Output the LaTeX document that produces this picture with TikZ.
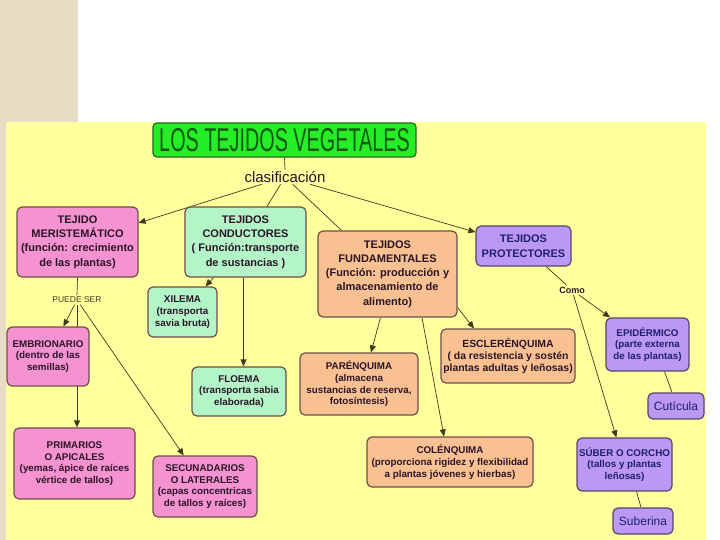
\documentclass[tikz,border=0pt]{standalone}
\usepackage{fontspec}
\setmainfont{Liberation Sans}
\newfontfamily\titlefont[FakeStretch=0.6]{Liberation Sans}
\usetikzlibrary{arrows.meta}
\pgfdeclarelayer{bg}
\pgfdeclarelayer{edges}
\pgfsetlayers{bg,edges,main}
\definecolor{yel}{HTML}{FFFF9E}
\definecolor{beige}{HTML}{E9DCC4}
\definecolor{pinkf}{HTML}{F592D0}
\definecolor{greenf}{HTML}{B4F5C8}
\definecolor{orangef}{HTML}{F9C192}
\definecolor{purplef}{HTML}{BB98F6}
\definecolor{titlef}{HTML}{26EE26}
\definecolor{titleline}{HTML}{1E6A1E}
\definecolor{titletxt}{HTML}{0E5A0E}
\definecolor{boxline}{HTML}{6E4E48}
\definecolor{purpline}{HTML}{55466A}
\definecolor{txt}{HTML}{2A1428}
\definecolor{navy}{HTML}{20206A}
\definecolor{lin}{HTML}{3C3C1C}
\tikzset{
  box/.style={draw=boxline, line width=1.2pt, rounded corners=5pt, inner sep=0pt,
    align=center, text=txt, font=\bfseries\fontsize{9.8}{11.7}\selectfont},
  big/.style={font=\bfseries\fontsize{11}{14.3}\selectfont},
  pinkb/.style={box, fill=pinkf},
  greenb/.style={box, fill=greenf},
  orangeb/.style={box, fill=orangef},
  purpleb/.style={box, fill=purplef, draw=purpline, text=navy},
  plainb/.style={purpleb, font=\fontsize{12}{14}\selectfont},
  lbl/.style={inner sep=1.5pt, text=txt},
  conn/.style={draw=lin, line width=0.7pt},
  arr/.style={conn, -{Triangle[length=7pt,width=6pt]}},
}
\begin{document}
\begin{tikzpicture}[x=1pt,y=-1pt]
\useasboundingbox (0,0) rectangle (720,540);
\begin{pgfonlayer}{bg}
  \fill[white] (0,0) rectangle (720,540);
  \fill[beige] (0,0) rectangle (78,122);
  \fill[beige] (0,122) rectangle (6,540);
  \fill[yel] (6,122) rectangle (706,540);
\end{pgfonlayer}

% title
\node[draw=titleline, fill=titlef, line width=1.2pt, rounded corners=4pt, inner sep=0pt,
  minimum width=263pt, minimum height=34pt, text=titletxt,
  font=\titlefont\fontsize{33}{33}\selectfont] (title) at (284.5,140) {LOS TEJIDOS VEGETALES};
\node[lbl, font=\fontsize{15}{16}\selectfont] (clas) at (285,177) {clasificación};

% meristematic
\node[pinkb, big, minimum width=121pt, minimum height=70pt] (mer) at (77.5,242)
  {TEJIDO\\MERISTEMÁTICO\\(función: crecimiento\\de las plantas)};
\node[lbl, text=lin, font=\fontsize{8.5}{9}\selectfont] (puede) at (77,300) {PUEDE SER};
\node[pinkb, minimum width=82pt, minimum height=59pt] (embr) at (48,356.5)
  {EMBRIONARIO\\(dentro de las\\semillas)};
\node[pinkb, minimum width=121pt, minimum height=71pt] (prim) at (74.5,463.5)
  {PRIMARIOS\\O APICALES\\(yemas, ápice de raíces\\vértice de tallos)};
\node[pinkb, minimum width=104pt, minimum height=61pt] (sec) at (205,486.5)
  {SECUNADARIOS\\O LATERALES\\(capas concentricas\\de tallos y raíces)};

% conductores
\node[greenb, big, minimum width=121pt, minimum height=70pt] (cond) at (245.5,242)
  {TEJIDOS\\CONDUCTORES\\( Función:transporte\\de sustancias )};
\node[greenb, minimum width=69pt, minimum height=50pt] (xil) at (182.5,312)
  {XILEMA\\(transporta\\savia bruta)};
\node[greenb, minimum width=94pt, minimum height=49pt] (flo) at (239,391.5)
  {FLOEMA\\(transporta sabia\\elaborada)};

% fundamentales
\node[orangeb, big, minimum width=139pt, minimum height=86pt] (fund) at (387.5,274)
  {TEJIDOS\\FUNDAMENTALES\\(Función: producción y\\almacenamiento de\\alimento)};
\node[orangeb, minimum width=118pt, minimum height=62pt] (par) at (359,384)
  {PARÉNQUIMA\\(almacena\\sustancias de reserva,\\fotosíntesis)};
\node[orangeb, font=\bfseries\fontsize{10.4}{11.7}\selectfont, minimum width=134pt, minimum height=54pt] (escl) at (508,356)
  {ESCLERÉNQUIMA\\( da resistencia y sostén\\plantas adultas y leñosas)};
\node[orangeb, minimum width=166pt, minimum height=50pt] (col) at (450,462)
  {COLÉNQUIMA\\(proporciona rigidez y flexibilidad\\a plantas jóvenes y hierbas)};

% protectores
\node[purpleb, big, font=\bfseries\fontsize{11}{15}\selectfont, minimum width=95pt, minimum height=40pt] (prot) at (523.5,246)
  {TEJIDOS\\PROTECTORES};
\node[lbl, font=\bfseries\fontsize{9}{10}\selectfont] (como) at (572,290) {Como};
\node[purpleb, minimum width=83pt, minimum height=53pt] (epi) at (647.5,344.5)
  {EPIDÉRMICO\\(parte externa\\de las plantas)};
\node[plainb, minimum width=56pt, minimum height=26pt] (cut) at (676,406) {Cutícula};
\node[purpleb, minimum width=95pt, minimum height=53pt] (sub) at (624.5,464.5)
  {SÚBER O CORCHO\\(tallos y plantas\\leñosas)};
\node[plainb, minimum width=60pt, minimum height=26pt] (suber) at (643,521) {Suberina};

% connectors
\begin{pgfonlayer}{edges}
  \draw[conn] (title.south) -- (clas.north);
  \draw[arr] (clas) -- (mer);
  \draw[conn] (clas) -- (cond);
  \draw[conn] (clas) -- (fund);
  \draw[arr] (clas) -- (prot);
  \draw[conn] (mer.south) -- (puede.north);
  \draw[arr] (puede) -- (embr);
  \draw[arr] (puede.south) -- (puede.south |- prim.north);
  \draw[arr] (puede) -- (sec);
  \draw[arr] (cond) -- (xil);
  \draw[arr] ([xshift=-2pt]cond.south) -- ([xshift=-2pt]cond.south |- flo.north);
  \draw[arr] ([xshift=-7pt]fund.south) -- ([xshift=12pt]par.north);
  \draw[arr] ([yshift=10pt]fund.south east) -- ([xshift=-34pt]escl.north);
  \draw[arr] ([xshift=34.5pt]fund.south) -- ([xshift=-6pt]col.north);
  \draw[conn] (prot) -- (como);
  \draw[arr] (como) -- (epi);
  \draw[arr] (como) -- (sub);
  \draw[conn] ([xshift=17pt]epi.south) -- ([xshift=-4pt]cut.north);
  \draw[conn] ([xshift=12pt]sub.south) -- ([xshift=-2pt]suber.north);
\end{pgfonlayer}
\end{tikzpicture}
\end{document}
